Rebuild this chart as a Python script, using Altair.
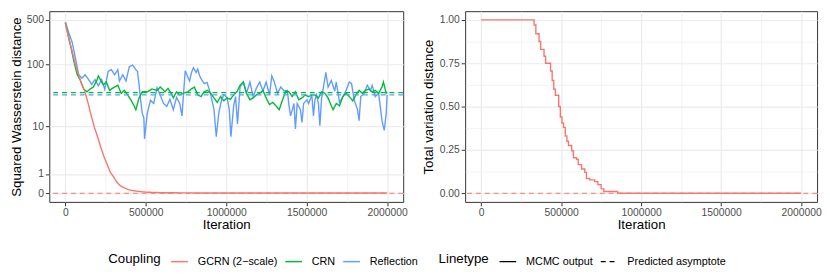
import altair as alt
import pandas as pd

COUPLINGS = ["GCRN (2−scale)", "CRN", "Reflection"]
COLORS = ["#F8766D", "#00BA38", "#619CFF"]
LINETYPES = ["MCMC output", "Predicted asymptote"]

# Squared Wasserstein distance traces
gcrn_iter = [0, 20000, 40000, 60000, 80000, 100000, 120000, 140000, 160000, 180000,
             200000, 220000, 240000, 260000, 280000, 300000, 320000, 340000, 360000,
             400000, 450000, 500000, 600000, 800000, 1200000, 1600000, 2000000]
gcrn_w2 = [450, 260, 170, 105, 72, 50, 38, 25, 15.3, 9.7,
           6.6, 4.2, 2.7, 1.8, 1.1, 0.8, 0.48, 0.32, 0.23,
           0.12, 0.07, 0.04, 0.02, 0.01, 0.01, 0.01, 0.01]

crn_iter = [0, 32000, 53000, 73000, 93000, 114000, 134000, 154000, 174000, 195000,
            205000, 225000, 237000, 255000, 275000, 292000, 306000, 326000, 347000, 367000,
            387000, 407000, 427000, 438000, 458000, 478000, 509000, 539000, 570000, 590000,
            620000, 638000, 657000, 671000, 691000, 711000, 731000, 762000, 782000, 802000,
            823000, 843000, 863000, 883000, 904000, 924000, 944000, 965000, 985000, 1005000,
            1026000, 1046000, 1066000, 1086000, 1106000, 1126000, 1147000, 1167000, 1187000, 1208000,
            1228000, 1248000, 1269000, 1289000, 1309000, 1329000, 1350000, 1370000, 1390000, 1410000,
            1430000, 1451000, 1471000, 1491000, 1512000, 1532000, 1552000, 1573000, 1593000, 1613000,
            1633000, 1653000, 1664000, 1684000, 1704000, 1725000, 1745000, 1765000, 1786000, 1806000,
            1826000, 1846000, 1867000, 1886000, 1907000, 1927000, 1947000, 1968000, 1977000, 1994000,
            2000000]
crn_w2 = [450, 200, 112, 70, 56, 41, 37, 41, 44, 56,
          66, 53, 48, 53, 39, 42, 44, 47, 35, 39,
          33, 27.5, 22, 19, 29.5, 37, 37, 41, 39, 44,
          37, 42, 35, 29.5, 37, 33, 35, 37, 41, 44,
          33, 31, 37, 39, 35, 29.5, 25, 31, 26.5, 29.5,
          28, 33, 37, 47, 53, 35, 27.5, 29.5, 33, 35,
          39, 29.5, 23, 25, 22, 19, 27.5, 38, 37, 31,
          37, 27.5, 29.5, 33, 31, 33, 33, 29.5, 37, 35,
          29.5, 22, 19, 24, 22, 31, 35, 31, 26.5, 33,
          39, 35, 39, 41, 37, 39, 35, 44, 53, 35,
          37]

refl_iter = [0, 22000, 43000, 63000, 83000, 103000, 123000, 144000, 164000, 184000,
             205000, 225000, 245000, 266000, 286000, 306000, 326000, 336000, 357000, 377000,
             397000, 418000, 438000, 448000, 458000, 468000, 478000, 488000, 492000, 509000,
             529000, 549000, 570000, 590000, 610000, 630000, 650000, 671000, 691000, 711000,
             725000, 736000, 745000, 762000, 772000, 784000, 796000, 813000, 823000, 833000,
             843000, 863000, 881000, 904000, 924000, 938000, 954000, 971000, 985000, 1005000,
             1019000, 1029000, 1046000, 1058000, 1070000, 1086000, 1106000, 1126000, 1147000, 1167000,
             1187000, 1208000, 1228000, 1248000, 1269000, 1283000, 1299000, 1319000, 1339000, 1360000,
             1380000, 1390000, 1400000, 1421000, 1430000, 1441000, 1461000, 1471000, 1481000, 1502000,
             1512000, 1532000, 1542000, 1552000, 1562000, 1573000, 1582000, 1593000, 1603000, 1619000,
             1633000, 1653000, 1674000, 1684000, 1704000, 1725000, 1745000, 1765000, 1779000, 1795000,
             1816000, 1826000, 1836000, 1856000, 1877000, 1897000, 1907000, 1927000, 1947000, 1957000,
             1968000, 1982000, 1994000, 2000000]
refl_w2 = [465, 310, 220, 124, 69, 61, 69, 58, 48.5, 58,
           46, 58, 40.6, 78, 83, 69, 83, 55, 69, 55,
           92, 98, 83, 78, 48.5, 27, 16.5, 13.8, 6, 16.5,
           27, 24, 43, 32.5, 24, 21.5, 28, 19, 30, 24,
           15, 39, 80, 63, 55, 75, 89, 75, 85, 68,
           60, 50, 52, 33, 19, 6.6, 17, 27.5, 33, 30,
           19, 6.6, 22, 31, 11, 44, 53, 35, 53, 31,
           42, 53, 38, 53, 33, 66, 53, 35, 44, 38,
           39, 22, 15, 24, 9, 24, 19, 11.7, 24, 27.5,
           24, 33, 15, 28, 33, 24, 10.3, 30, 42, 75,
           44, 56, 38, 53, 25, 31, 39, 53, 50, 27.5,
           19, 12.5, 31, 35, 47, 39, 47, 31, 35, 22,
           12.5, 8.5, 16, 33]

w2_asymptote = [0, 36, 33]

# Total variation distance (GCRN only)
tv_iter = [0, 311000, 331000, 342000, 362000, 372000, 393000, 403000, 434000, 444000,
           454000, 464000, 485000, 495000, 505000, 515000, 526000, 536000, 546000, 566000,
           577000, 597000, 607000, 628000, 648000, 658000, 679000, 710000, 730000, 750000,
           767000, 853000, 2000000]
tv_val = [1.0, 1.0, 0.97, 0.92, 0.875, 0.83, 0.79, 0.75, 0.705, 0.65,
          0.60, 0.565, 0.50, 0.44, 0.405, 0.38, 0.33, 0.30, 0.275, 0.245,
          0.205, 0.195, 0.165, 0.14, 0.12, 0.085, 0.077, 0.067, 0.05, 0.025,
          0.01, 0.0, 0.0]
tv_asymptote = [0]

FONT = "Liberation Sans"

w2_rows = []
for name, its, vals in [(COUPLINGS[0], gcrn_iter, gcrn_w2),
                        (COUPLINGS[1], crn_iter, crn_w2),
                        (COUPLINGS[2], refl_iter, refl_w2)]:
    for i, v in zip(its, vals):
        w2_rows.append({"iter": i, "value": v, "coupling": name, "linetype": LINETYPES[0]})
w2_df = pd.DataFrame(w2_rows)
w2_asym_df = pd.DataFrame({"value": w2_asymptote, "coupling": COUPLINGS,
                           "linetype": LINETYPES[1]})
tv_df = pd.DataFrame({"iter": tv_iter, "value": tv_val, "coupling": COUPLINGS[0],
                      "linetype": LINETYPES[0]})
tv_asym_df = pd.DataFrame({"value": tv_asymptote, "coupling": COUPLINGS[0],
                           "linetype": LINETYPES[1]})

color_scale = alt.Scale(domain=COUPLINGS, range=COLORS)
dash_scale = alt.Scale(domain=LINETYPES, range=[[1, 0], [5, 4]])

color_legend = alt.Legend(title="Coupling", orient="none", legendX=60, legendY=245,
                          direction="horizontal", titleOrient="left", symbolType="stroke",
                          symbolSize=289, symbolStrokeWidth=1.5, labelOffset=9,
                          columnPadding=5, titlePadding=9, labelLimit=300)
dash_legend = alt.Legend(title="Linetype", orient="none", legendX=396, legendY=245,
                         direction="horizontal", titleOrient="left", symbolType="stroke",
                         symbolSize=289, symbolStrokeWidth=1.5, symbolStrokeColor="black",
                         labelOffset=9, columnPadding=5, titlePadding=9, labelLimit=300)

major_x = "datum.value % 500000 === 0"
x_vals = [k * 250000 for k in range(9)]


def x_enc():
    return alt.X("iter:Q",
                 scale=alt.Scale(domain=[-100000, 2100000], nice=False, zero=False),
                 axis=alt.Axis(title="Iteration", values=x_vals,
                               labelExpr=f"{major_x} ? format(datum.value, 'd') : ''",
                               tickOpacity={"condition": {"test": major_x, "value": 1}, "value": 0},
                               gridWidth={"condition": {"test": major_x, "value": 1.2}, "value": 0.6},
                               labelOverlap=False, labelFlush=False, titlePadding=0))


w2_yscale = alt.Scale(type="symlog", constant=1, domain=[-0.365, 683], nice=False, zero=False)
w2_yaxis = alt.Axis(title="Squared Wasserstein distance", values=[0, 1, 10, 100, 500],
                    labelExpr="format(datum.value, 'd')", titlePadding=3)

tv_yscale = alt.Scale(domain=[-0.05, 1.05], nice=False, zero=False)
major_y = "abs(datum.value * 4 - round(datum.value * 4)) < 0.001"
tv_yaxis = alt.Axis(title="Total variation distance", values=[k * 0.125 for k in range(9)],
                    labelExpr=f"{major_y} ? format(datum.value, '.2f') : ''",
                    tickOpacity={"condition": {"test": major_y, "value": 1}, "value": 0},
                    gridWidth={"condition": {"test": major_y, "value": 1.2}, "value": 0.6},
                    labelOverlap=False, labelFlush=False, titlePadding=4)


def line_layer(df, name, yscale, yaxis, step=False):
    mk = alt.Chart(df).mark_line(strokeWidth=1.4, interpolate="step-after" if step else "linear")
    return mk.transform_filter(alt.datum.coupling == name).encode(
        x=x_enc(),
        y=alt.Y("value:Q", scale=yscale, axis=yaxis),
        color=alt.Color("coupling:N", scale=color_scale, legend=color_legend),
        strokeDash=alt.StrokeDash("linetype:N", scale=dash_scale, legend=dash_legend),
    )


def rule_layer(df, yscale, yaxis):
    return alt.Chart(df).mark_rule(strokeWidth=1.2).encode(
        y=alt.Y("value:Q", scale=yscale, axis=yaxis),
        color=alt.Color("coupling:N", scale=color_scale, legend=color_legend),
        strokeDash=alt.StrokeDash("linetype:N", scale=dash_scale, legend=dash_legend),
    )


left = alt.layer(
    line_layer(w2_df, COUPLINGS[2], w2_yscale, w2_yaxis),
    line_layer(w2_df, COUPLINGS[1], w2_yscale, w2_yaxis),
    line_layer(w2_df, COUPLINGS[0], w2_yscale, w2_yaxis),
    rule_layer(w2_asym_df, w2_yscale, w2_yaxis),
).properties(width=360, height=194)

right = alt.layer(
    line_layer(tv_df, COUPLINGS[0], tv_yscale, tv_yaxis, step=True),
    rule_layer(tv_asym_df, tv_yscale, tv_yaxis),
).properties(width=358, height=194)

chart = alt.hconcat(left, right, spacing=13).properties(
    padding={"left": 0, "top": 0, "right": 0, "bottom": 0},
    background="white",
).configure(font=FONT).configure_view(
    stroke="#333333", strokeWidth=1
).configure_axis(
    labelFont=FONT, labelFontSize=10.5, labelColor="#4D4D4D",
    titleFont=FONT, titleFontSize=13.5, titleFontWeight="normal", titleColor="black",
    tickColor="#333333", tickSize=4, tickWidth=1, labelPadding=2, domain=False,
    gridColor="#EBEBEB", gridWidth=1.2,
).configure_legend(
    labelFont=FONT, labelFontSize=11, labelColor="black",
    titleFont=FONT, titleFontSize=13.5, titleFontWeight="normal", titleColor="black",
)

chart.save("out.html", embed_options={"renderer": "svg", "actions": False})
